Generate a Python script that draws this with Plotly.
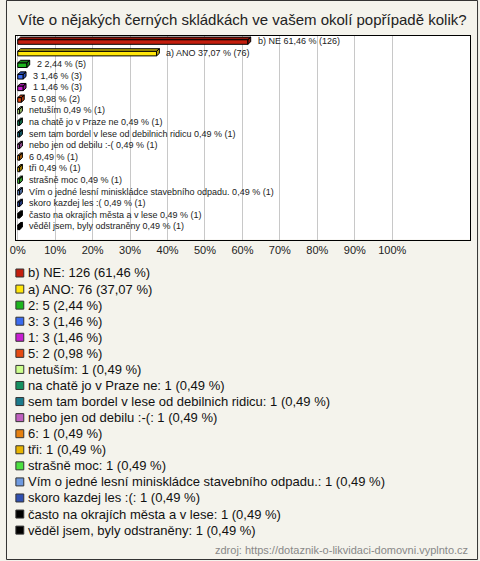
import plotly.graph_objects as go

# ---- data ----
bar_labels = ["b) NE", "a) ANO", "2", "3", "1", "5", "netuším", "na chatě jo v Praze ne",
              "sem tam bordel v lese od debilnich ridicu", "nebo jen od debilu :-(", "6", "tři",
              "strašně moc", "Vím o jedné lesní miniskládce stavebního odpadu.", "skoro kazdej les :(",
              "často na okrajích města a v lese", "věděl jsem, byly odstraněny"]
counts = [126, 76, 5, 3, 3, 2, 1, 1, 1, 1, 1, 1, 1, 1, 1, 1, 1]
percents = [61.46, 37.07, 2.44, 1.46, 1.46, 0.98, 0.49, 0.49, 0.49, 0.49, 0.49, 0.49, 0.49,
            0.49, 0.49, 0.49, 0.49]
colors = ["#C41E0E", "#FFE60A", "#1DB51D", "#3A6BF0", "#C81ED2", "#E64A12", "#CCFF8C", "#159060",
          "#1A7A8C", "#C060C0", "#E6800F", "#E8B400", "#4CE040", "#6E9AE0", "#3050B0", "#000000",
          "#000000"]
tick_vals = [0, 10, 20, 30, 40, 50, 60, 70, 80, 90, 100]
tick_text = ["0%", "10%", "20%", "30%", "40%", "50%", "60%", "70%", "80%", "90%", "100%"]

title = "Víte o nějakých černých skládkách ve vašem okolí popřípadě kolik?"
source = "zdroj: https://dotaznik-o-likvidaci-domovni.vyplnto.cz"

W, H = 480, 561
FONT = "Liberation Sans, Arial, sans-serif"


def fmt(p):
    return f"{p:.2f}".replace(".", ",")


def darker(hexc, f=0.65):
    h = hexc.lstrip("#")
    r, g, b = (int(h[i:i + 2], 16) for i in (0, 2, 4))
    return f"rgb({int(r * f)},{int(g * f)},{int(b * f)})"


fig = go.Figure()

bh = 0.4      # bar thickness in row units
dx = 0.75     # depth in % units
dy = 0.22     # depth in row units
ys = list(range(len(bar_labels)))

for i, (v, c) in enumerate(zip(percents, colors)):
    top = i - bh / 2
    bot = i + bh / 2
    px = [0, v, v + dx, dx, 0, None, v, v + dx, v + dx, v, v]
    py = [top, top, top - dy, top - dy, top, None, top, top - dy, bot - dy, bot, top]
    fig.add_trace(go.Scatter(x=px, y=py, mode="lines", fill="toself",
                             fillcolor=darker(c, 0.75), line=dict(color="#000", width=1),
                             hoverinfo="skip", showlegend=False))

fig.add_trace(go.Bar(x=percents, y=ys, orientation="h", width=bh,
                     marker=dict(color=colors, line=dict(color="#000", width=1)),
                     showlegend=False, hoverinfo="skip"))

for i, (lab, v, n) in enumerate(zip(bar_labels, percents, counts)):
    fig.add_annotation(x=v + dx, y=i, xref="x", yref="y", text=f"{lab} {fmt(v)} % ({n})",
                       showarrow=False, xanchor="left", xshift=5, yshift=1,
                       font=dict(family=FONT, size=9, color="#222"))

# legend lines
x0_px, y0_px, step = 10, 273, 16.07
for i, (lab, v, n, c) in enumerate(zip(bar_labels, percents, counts, colors)):
    yc = y0_px + i * step
    fig.add_shape(type="rect", xref="paper", yref="paper",
                  x0=x0_px / W, x1=(x0_px + 8) / W,
                  y0=1 - (yc + 4) / H, y1=1 - (yc - 4) / H,
                  fillcolor=c, line=dict(color="#333", width=1))
    fig.add_annotation(x=(x0_px + 10) / W, y=1 - yc / H, xref="paper", yref="paper",
                       text=f"{lab}: {n} ({fmt(v)} %)", showarrow=False,
                       xanchor="left", yanchor="middle",
                       font=dict(family=FONT, size=13, color="#111"))

fig.add_annotation(x=239 / W, y=1 - 20 / H, xref="paper", yref="paper", text=title,
                   showarrow=False, xanchor="center", yanchor="middle",
                   font=dict(family=FONT, size=15, color="#222"))
fig.add_annotation(x=470 / W, y=1 - 550 / H, xref="paper", yref="paper", text=source,
                   showarrow=False, xanchor="right", yanchor="middle",
                   font=dict(family=FONT, size=11, color="#888"))

# outer frame
fig.add_shape(type="rect", xref="paper", yref="paper", x0=0.5 / W, x1=477.5 / W,
              y0=1 - 559.5 / H, y1=1 - 0.5 / H, line=dict(color="#333", width=1),
              fillcolor="rgba(0,0,0,0)", layer="below")

fig.update_layout(
    width=W, height=H,
    margin=dict(l=0, r=0, t=0, b=0),
    paper_bgcolor="#F4F3EC",
    plot_bgcolor="#FFFFFF",
    showlegend=False,
    bargap=0,
    hovermode=False,
    xaxis=dict(domain=[10 / W, 470 / W], range=[-0.5, 120.8], tickvals=tick_vals,
               ticktext=tick_text, showgrid=True, gridcolor="#C8C8C8", gridwidth=1,
               zeroline=False, showline=True, mirror=True, linecolor="#000", linewidth=1,
               ticks="", tickfont=dict(family=FONT, size=11, color="#222"), fixedrange=True),
    yaxis=dict(domain=[1 - 239.5 / H, 1 - 35.5 / H], range=[17.05, -0.56], showticklabels=False,
               showgrid=False, zeroline=False, showline=True, mirror=True, linecolor="#000",
               linewidth=1, ticks="", fixedrange=True),
)

fig.write_html("out.html", config={"displayModeBar": False, "staticPlot": True},
               post_script="document.body.style.margin='0';document.body.style.overflow='hidden';")
